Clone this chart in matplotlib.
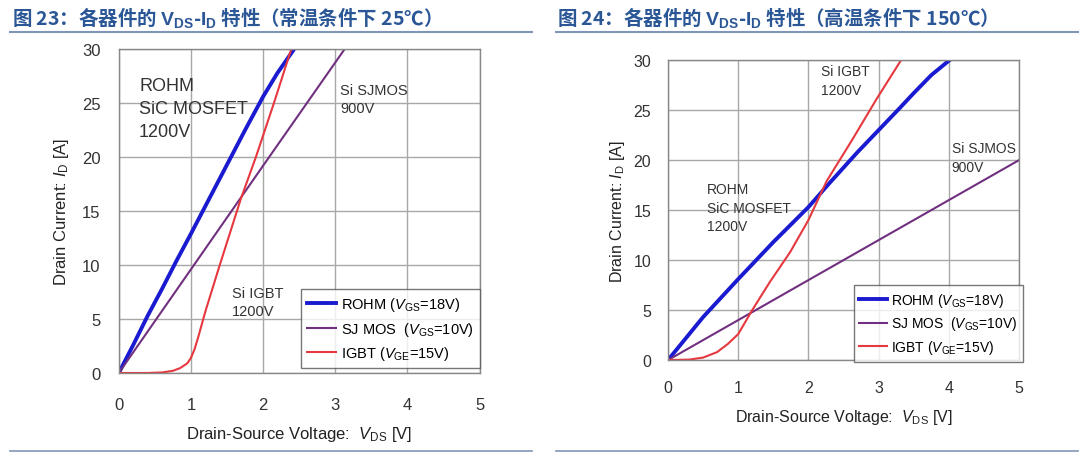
"""
VDS-ID characteristics of ROHM SiC MOSFET vs Si SJ MOS vs Si IGBT, at 25C and 150C.
"""

import matplotlib
matplotlib.use("Agg")
import matplotlib.pyplot as plt
from matplotlib.lines import Line2D

plt.rcParams["font.family"] = ["Liberation Sans", "Noto Sans CJK SC", "DejaVu Sans"]
plt.rcParams["mathtext.fontset"] = "custom"
plt.rcParams["mathtext.rm"] = "Liberation Sans"
plt.rcParams["mathtext.it"] = "Liberation Sans:italic"
plt.rcParams["mathtext.bf"] = "Liberation Sans:bold"

# ---- data ----
# 25 C
rohm_25_v = [0, 0.2, 0.4, 0.6, 0.8, 1.0, 1.25, 1.5, 1.75, 2.0, 2.2, 2.43]
rohm_25_i = [0, 2.6, 5.3, 7.8, 10.4, 12.9, 16.1, 19.3, 22.5, 25.6, 27.8, 30]
sjmos_25_v = [0, 1.0, 2.0, 3.13]
sjmos_25_i = [0, 9.6, 19.2, 30]
igbt_25_v = [0, 0.4, 0.6, 0.75, 0.85, 0.95, 1.0, 1.05, 1.1, 1.15, 1.2, 1.39, 1.69, 1.9, 2.15, 2.39]
igbt_25_i = [0, 0.0, 0.05, 0.2, 0.45, 0.9, 1.4, 2.2, 3.3, 4.5, 5.7, 9.8, 16.1, 20, 25, 30]

# 150 C
rohm_150_v = [0, 0.5, 1.0, 1.5, 2.0, 2.3, 2.7, 3.0, 3.3, 3.5, 3.75, 4.01]
rohm_150_i = [0, 4.3, 8.1, 11.8, 15.3, 17.7, 20.8, 23.0, 25.2, 26.7, 28.5, 30]
sjmos_150_v = [0, 1.0, 2.0, 3.0, 4.0, 5.0]
sjmos_150_i = [0, 4.0, 8.0, 12.0, 16.0, 20.0]
igbt_150_v = [0, 0.3, 0.5, 0.7, 0.85, 1.0, 1.2, 1.45, 1.74, 2.0, 2.26, 2.63, 2.97, 3.32]
igbt_150_i = [0, 0.05, 0.25, 0.8, 1.6, 2.6, 5.0, 7.8, 10.8, 14.0, 17.9, 22.1, 26.1, 30]

x_ticks = [0, 1, 2, 3, 4, 5]
y_ticks = [0, 5, 10, 15, 20, 25, 30]

legend_labels = [
    r"ROHM ($V_{\mathrm{GS}}$=18V)",
    r"SJ MOS  ($V_{\mathrm{GS}}$=10V)",
    r"IGBT ($V_{\mathrm{GE}}$=15V)",
]
titles = [
    r"图 23：各器件的 $\mathbf{V}_{\mathbf{DS}}$-$\mathbf{I}_{\mathbf{D}}$ 特性（常温条件下 25℃）",
    r"图 24：各器件的 $\mathbf{V}_{\mathbf{DS}}$-$\mathbf{I}_{\mathbf{D}}$ 特性（高温条件下 150℃）",
]

BLUE = "#1a1ad0"
PURPLE = "#70307f"
RED = "#e5383f"
TITLE_C = "#2b5797"
RULE_C = "#8096b8"


def style_axes(ax, fs, xpad, ypad, xlpad, ylpad):
    ax.set_xlim(0, 5)
    ax.set_ylim(0, 30)
    ax.set_xticks(x_ticks)
    ax.set_yticks(y_ticks)
    ax.grid(True, color="#a8a8a8", linewidth=1.0)
    ax.set_axisbelow(True)
    for s in ax.spines.values():
        s.set_color("#888888")
        s.set_linewidth(1.0)
    ax.tick_params(length=0, labelsize=fs, colors="#333333")
    ax.tick_params(axis="x", pad=xpad)
    ax.tick_params(axis="y", pad=ypad)
    ax.set_xlabel(r"Drain-Source Voltage:  $V_{\mathrm{DS}}$ [V]", fontsize=fs,
                  color="#222222", labelpad=xlpad)
    ax.set_ylabel(r"Drain Current: $I_{\mathrm{D}}$ [A]", fontsize=fs,
                  color="#222222", labelpad=ylpad)


def draw_curves(ax, rv, ri, sv, si, iv, ii):
    ax.plot(rv, ri, color=BLUE, linewidth=2.8, label=legend_labels[0])
    ax.plot(sv, si, color=PURPLE, linewidth=1.5, label=legend_labels[1])
    ax.plot(iv, ii, color=RED, linewidth=1.5, label=legend_labels[2])


fig = plt.figure(figsize=(10.8, 4.6), dpi=100)

# left panel (25 C)
ax1 = fig.add_axes([0.110, 0.187, 0.334, 0.704])
style_axes(ax1, 12, xpad=17, ypad=13, xlpad=9, ylpad=8)
draw_curves(ax1, rohm_25_v, rohm_25_i, sjmos_25_v, sjmos_25_i, igbt_25_v, igbt_25_i)
ax1.text(0.28, 27.4, "ROHM\nSiC MOSFET\n1200V", fontsize=13, color="#333333",
         va="top", ha="left", linespacing=1.45)
ax1.text(3.07, 26.9, "Si SJMOS\n900V", fontsize=10.5, color="#333333",
         va="top", ha="left", linespacing=1.4)
ax1.text(1.57, 8.1, "Si IGBT\n1200V", fontsize=10.5, color="#333333",
         va="top", ha="left", linespacing=1.4)
leg1 = ax1.legend(loc="lower right", bbox_to_anchor=(1.0, 0.015), borderaxespad=0,
                  fontsize=10.5, frameon=True, fancybox=False, handlelength=2.0,
                  handletextpad=0.3, labelspacing=0.45, borderpad=0.4)
leg1.get_frame().set_edgecolor("#555555")
leg1.get_frame().set_linewidth(1.0)

# right panel (150 C)
ax2 = fig.add_axes([0.6185, 0.215, 0.325, 0.652])
style_axes(ax2, 11.5, xpad=14, ypad=12, xlpad=9, ylpad=5)
draw_curves(ax2, rohm_150_v, rohm_150_i, sjmos_150_v, sjmos_150_i, igbt_150_v, igbt_150_i)
ax2.text(2.18, 29.6, "Si IGBT\n1200V", fontsize=10, color="#333333",
         va="top", ha="left", linespacing=1.4)
ax2.text(0.55, 17.8, "ROHM\nSiC MOSFET\n1200V", fontsize=10, color="#333333",
         va="top", ha="left", linespacing=1.4)
ax2.text(4.04, 21.9, "Si SJMOS\n900V", fontsize=10, color="#333333",
         va="top", ha="left", linespacing=1.4)
leg2 = ax2.legend(loc="lower right", bbox_to_anchor=(1.012, -0.005), borderaxespad=0,
                  fontsize=10, frameon=True, fancybox=False, handlelength=2.0,
                  handletextpad=0.3, labelspacing=0.4, borderpad=0.4)
leg2.get_frame().set_edgecolor("#555555")
leg2.get_frame().set_linewidth(1.0)

# titles and rules
for x0, title in [(12, titles[0]), (557, titles[1])]:
    fig.text(x0 / 1080, 1 - 17 / 460, title, fontsize=14, fontweight="bold",
             color=TITLE_C, va="center", ha="left",
             family=["Noto Sans CJK SC", "DejaVu Sans"])
for x0, x1 in [(10, 532), (556, 1078)]:
    fig.add_artist(Line2D([x0 / 1080, x1 / 1080], [1 - 33 / 460] * 2,
                          color=RULE_C, linewidth=1.5))
    fig.add_artist(Line2D([x0 / 1080, x1 / 1080], [1 - 452 / 460] * 2,
                          color=RULE_C, linewidth=1.2))

fig.savefig("out.png", dpi=100)
